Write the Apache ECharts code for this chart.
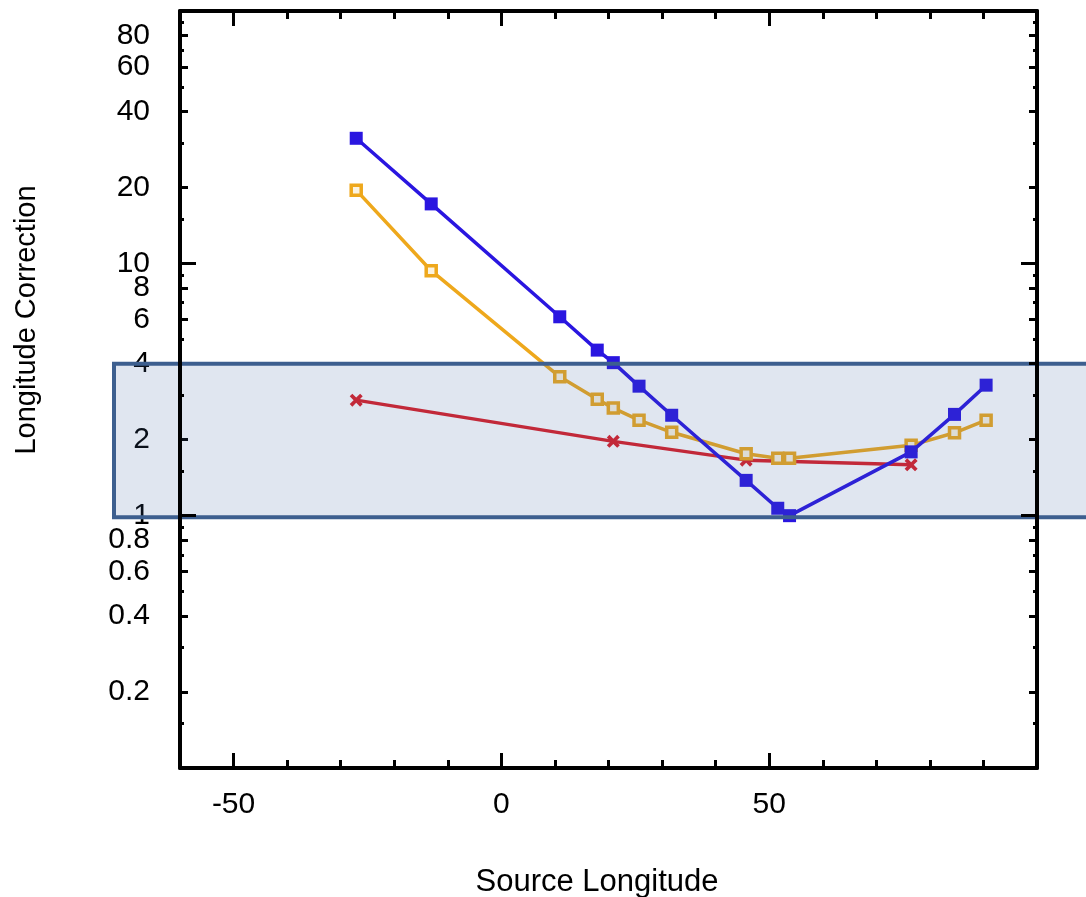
<!DOCTYPE html>
<html>
<head>
<meta charset="utf-8">
<script src="https://cdn.jsdelivr.net/npm/echarts@6/dist/echarts.min.js"></script>
<style>html,body{margin:0;padding:0;background:#fff}#c{width:1086px;height:897px}</style>
</head>
<body>
<div id="c"></div>
<script>
// ---- data ----
const lonAll = [-27.1, -13.1, 10.9, 17.9, 20.9, 25.7, 31.8, 45.7, 51.6, 53.8, 76.5, 84.6, 90.5];
const corrBlue = [31.3, 17.2, 6.14, 4.53, 4.04, 3.26, 2.50, 1.38, 1.07, 1.0, 1.79, 2.52, 3.29];
const corrOrange = [19.5, 9.35, 3.55, 2.89, 2.67, 2.39, 2.14, 1.76, 1.69, 1.69, 1.90, 2.13, 2.39];
const lonRed = [-27.1, 20.9, 45.7, 76.5];
const corrRed = [2.87, 1.97, 1.66, 1.59];

const yLabelValues = [0.2, 0.4, 0.6, 0.8, 1, 2, 4, 6, 8, 10, 20, 40, 60, 80];
const yMajorTicks = [1, 10];
const yMediumTicks = [0.2, 0.4, 0.6, 0.8, 2, 4, 6, 8, 20, 40, 60, 80];
const ySmallTicks = [0.15, 0.3, 0.5, 0.7, 0.9, 1.5, 3, 5, 7, 9, 15, 30, 50, 70, 90];
const xLabelValues = [-50, 0, 50];
const xMinorTicks = [-40, -30, -20, -10, 10, 20, 30, 40, 60, 70, 80, 90];
const bandRange = [4, 0.985];   // shaded band (value range on y)

const xTitle = 'Source Longitude';
const yTitle = 'Longitude Correction';

// ---- chart ----
const FONT = '"Liberation Sans", Arial, sans-serif';
const chart = echarts.init(document.getElementById('c'), null, {renderer: 'canvas'});

function pairs(xs, ys) { return xs.map((x, i) => [x, ys[i]]); }

function yAx(position, ticks, len, withLine, withLabels) {
  return {
    type: 'log', logBase: 10, min: 0.1, max: 100, position: position,
    z: withLabels ? 3 : 10,
    splitLine: {show: false},
    axisLine: {show: withLine, onZero: false, lineStyle: {color: '#000', width: 4}},
    axisTick: {show: true, inside: true, length: len, customValues: ticks,
               lineStyle: {color: '#000', width: 3}},
    axisLabel: withLabels ? {
      show: true, customValues: yLabelValues, margin: 30,
      color: '#000', fontSize: 30, fontFamily: FONT,
      formatter: v => String(+(+v).toPrecision(6))
    } : {show: false}
  };
}
function xAx(position, ticks, len, withLine, withLabels) {
  return {
    type: 'value', min: -60, max: 100, position: position,
    z: withLabels ? 3 : 10,
    splitLine: {show: false},
    axisLine: {show: withLine, onZero: false, lineStyle: {color: '#000', width: 4}},
    axisTick: {show: true, inside: true, length: len, customValues: ticks,
               lineStyle: {color: '#000', width: 3}},
    axisLabel: withLabels ? {
      show: true, customValues: xLabelValues, margin: 22,
      color: '#000', fontSize: 30, fontFamily: FONT
    } : {show: false}
  };
}

const xSym = 'path://M0,2L2,0L5,3L8,0L10,2L7,5L10,8L8,10L5,7L2,10L0,8L3,5Z';

chart.setOption({
  animation: false,
  backgroundColor: '#fff',
  grid: {left: 180, right: 49, top: 11, bottom: 129},
  xAxis: [
    xAx('bottom', xLabelValues, 15, true, true),
    xAx('bottom', xMinorTicks, 8, false, false),
    xAx('top', xLabelValues, 15, true, false),
    xAx('top', xMinorTicks, 8, false, false)
  ],
  yAxis: [
    yAx('left', yMediumTicks, 8, false, true),
    yAx('left', yMajorTicks, 16, true, false),
    yAx('left', ySmallTicks, 4, false, false),
    yAx('right', yMediumTicks, 8, false, false),
    yAx('right', yMajorTicks, 16, true, false),
    yAx('right', ySmallTicks, 4, false, false)
  ],
  series: [
    {
      type: 'line', name: 'red', xAxisIndex: 0, yAxisIndex: 0, z: 2,
      data: pairs(lonRed, corrRed),
      symbol: xSym, symbolSize: 13,
      lineStyle: {color: '#dc1e26', width: 3.5},
      itemStyle: {color: '#dc1e26'}
    },
    {
      type: 'line', name: 'orange', xAxisIndex: 0, yAxisIndex: 0, z: 3,
      data: pairs(lonAll, corrOrange),
      symbol: 'rect', symbolSize: 10,
      lineStyle: {color: '#eea81c', width: 3.5},
      itemStyle: {color: '#fbf3e0', borderColor: '#eea81c', borderWidth: 3.5}
    },
    {
      type: 'line', name: 'blue', xAxisIndex: 0, yAxisIndex: 0, z: 4,
      data: pairs(lonAll, corrBlue),
      symbol: 'rect', symbolSize: 13,
      lineStyle: {color: '#2a16e0', width: 3.5},
      itemStyle: {color: '#2a16e0'}
    }
  ]
});

const pTop = chart.convertToPixel({xAxisIndex: 0, yAxisIndex: 0}, [0, bandRange[0]]);
const pBot = chart.convertToPixel({xAxisIndex: 0, yAxisIndex: 0}, [0, bandRange[1]]);

chart.setOption({
  graphic: [
    {
      type: 'rect', z: 6, silent: true,
      shape: {x: 114, y: pTop[1], width: 1000, height: pBot[1] - pTop[1]},
      style: {fill: 'rgba(60,100,160,0.16)', stroke: '#3d5f8f', lineWidth: 4}
    },
    {
      type: 'text', z: 20, x: 597, y: 882,
      style: {text: xTitle, fontSize: 31, fontFamily: FONT, fill: '#000',
              textAlign: 'center', textVerticalAlign: 'middle'}
    },
    {
      type: 'text', z: 20, x: 27, y: 320, rotation: Math.PI / 2,
      style: {text: yTitle, fontSize: 29, fontFamily: FONT, fill: '#000',
              textAlign: 'center', textVerticalAlign: 'middle'}
    }
  ]
});
</script>
</body>
</html>
